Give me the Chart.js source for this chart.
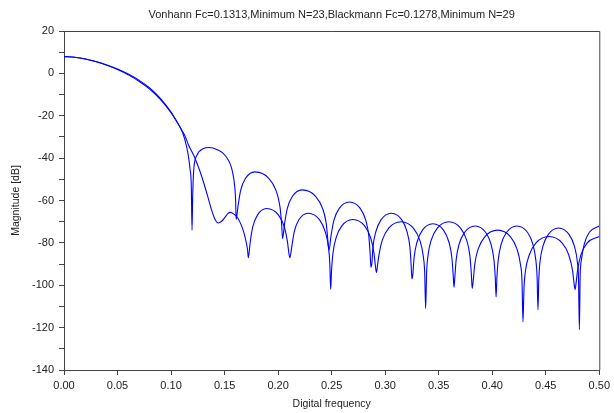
<!DOCTYPE html>
<html>
<head>
<meta charset="utf-8">
<script src="https://cdn.jsdelivr.net/npm/chart.js@4.4.1/dist/chart.umd.min.js"></script>
<style>
  html, body { margin: 0; padding: 0; background: #fff; }
  #wrap { width: 614px; height: 413px; }
</style>
</head>
<body>
<div id="wrap"><canvas id="fir" width="614" height="413"></canvas></div>
<script>
// Hann window filter, N=23
const freqA = [
	0, 0.01, 0.02, 0.03, 0.04, 0.05, 0.06, 0.07, 0.08, 0.09, 0.10, 0.105, 0.110,
	0.113, 0.1155, 0.1177, 0.1189, 0.1196,
	0.1202, 0.1211, 0.1243, 0.1304, 0.1355, 0.1431, 0.1510, 0.1572, 0.1596, 0.1603, 0.1608,
	0.1626, 0.1650, 0.1696, 0.1784, 0.1913, 0.1980, 0.2016, 0.2032, 0.2042,
	0.2060, 0.2086, 0.2134, 0.2225, 0.2350, 0.2415, 0.2450, 0.2465, 0.2475,
	0.2494, 0.2521, 0.2571, 0.2667, 0.2767, 0.2819, 0.2847, 0.2859, 0.2867,
	0.2875, 0.2886, 0.2913, 0.2962, 0.3058, 0.3154, 0.3204, 0.3231, 0.3242, 0.3250,
	0.3258, 0.3270, 0.3297, 0.3348, 0.3446, 0.3545, 0.3596, 0.3623, 0.3635, 0.3643,
	0.3651, 0.3663, 0.3690, 0.3742, 0.3840, 0.3938, 0.3989, 0.4016, 0.4028, 0.4036,
	0.4044, 0.4056, 0.4083, 0.4134, 0.4231, 0.4329, 0.4380, 0.4407, 0.4419, 0.4427,
	0.4435, 0.4446, 0.4473, 0.4524, 0.4620, 0.4717, 0.4768, 0.4795, 0.4806, 0.4814,
	0.4821, 0.4833, 0.4859, 0.4907, 0.5000
];
const magA = [
	7.9, 7.6, 6.8, 5.6, 4.0, 2.1, -0.3, -3.2, -6.9, -11.8, -18.3, -22.4, -27.0,
	-31.5, -37, -45, -53, -74,
	-58, -46, -38.5, -35.5, -35, -36, -39, -46, -54, -60, -69,
	-62.5, -55.2, -49.5, -46.5, -49.5, -55.2, -62.5, -70.5, -78,
	-71, -63.7, -58, -55, -58, -63.7, -71, -79, -83.5,
	-76.7, -69.4, -63.7, -60.7, -63.7, -69.4, -76.7, -84.7, -91.5,
	-90, -82, -74.7, -69, -66, -69, -74.7, -82, -90, -97,
	-95, -87, -79.7, -74, -71, -74, -79.7, -87, -95, -101,
	-96, -88, -80.7, -75, -72, -75, -80.7, -88, -96, -105.5,
	-96, -88, -80.7, -75, -72, -75, -80.7, -88, -96, -111.5,
	-97, -89, -81.7, -76, -73, -76, -81.7, -89, -97, -121,
	-96, -88, -80.7, -75, -72
];

// Blackman window filter, N=29
const freqB = [
	0, 0.01, 0.02, 0.03, 0.04, 0.05, 0.06, 0.07, 0.08, 0.09, 0.10, 0.105, 0.110,
	0.113, 0.1165, 0.1200, 0.1227, 0.1265, 0.1304, 0.1345, 0.1382, 0.1410, 0.1441,
	0.1472, 0.1503, 0.1530, 0.1552, 0.1580, 0.1620, 0.1655, 0.1685, 0.1705, 0.1715, 0.1722,
	0.1739, 0.1763, 0.1808, 0.1893, 0.2002, 0.2058, 0.2088, 0.2101, 0.2110,
	0.2127, 0.2151, 0.2195, 0.2280, 0.2386, 0.2440, 0.2470, 0.2483, 0.2491,
	0.2499, 0.2512, 0.2541, 0.2595, 0.2698, 0.2808, 0.2865, 0.2896, 0.2909, 0.2918,
	0.2930, 0.2941, 0.2973, 0.3033, 0.3148, 0.3263, 0.3323, 0.3355, 0.3369, 0.3378,
	0.3387, 0.3400, 0.3430, 0.3487, 0.3595, 0.3704, 0.3761, 0.3791, 0.3804, 0.3813,
	0.3822, 0.3837, 0.3870, 0.3932, 0.4050, 0.4169, 0.4230, 0.4263, 0.4278, 0.4287,
	0.4297, 0.4311, 0.4346, 0.4409, 0.4530, 0.4652, 0.4715, 0.4750, 0.4764, 0.4774,
	0.4783, 0.4797, 0.4828, 0.4887, 0.5000
];
const magB = [
	7.9, 7.6, 6.8, 5.5, 3.8, 1.8, -0.7, -3.7, -7.4, -12.3, -18.6, -22.5, -26.8,
	-29.5, -34, -37.5, -40.5, -45.5, -51.5, -58.5, -65, -68.8, -70.6,
	-69.8, -68, -66.2, -65.6, -66.2, -68, -71.5, -76, -80.5, -83.5, -87,
	-79.8, -72.5, -66.8, -63.8, -66.8, -72.5, -79.8, -85, -87,
	-82, -74.7, -69, -66, -69, -74.7, -82, -90, -102,
	-93, -85, -77.7, -72, -69, -72, -77.7, -85, -91, -94,
	-90, -86, -78.7, -73, -70, -73, -78.7, -86, -94, -111,
	-94, -86, -78.7, -73, -70, -73, -78.7, -86, -94, -101.5,
	-98, -90, -82.7, -77, -74, -77, -82.7, -90, -98, -117.3,
	-101, -93, -85.7, -80, -77, -80, -85.7, -93, -99, -102,
	-99, -93, -85.7, -80, -77
];

const plotTitle = 'Vonhann Fc=0.1313,Minimum N=23,Blackmann Fc=0.1278,Minimum N=29';
const xTitle = 'Digital frequency';
const yTitle = 'Magnitude [dB]';

const axisColor = '#444';
const lineColor = 'rgb(0, 0, 255)';
const fontFamily = '"Liberation Sans", Arial, sans-serif';

function toPoints(xs, ys) {
	let pts = [];
	for (let i = 0; i < xs.length; i++) {
		pts.push({ x: xs[i], y: ys[i] });
	}
	return pts;
}

// top and right edges of the plot box
const boxFrame = {
	id: 'boxFrame',
	afterDraw(chart) {
		const { ctx, chartArea: a } = chart;
		ctx.save();
		ctx.strokeStyle = axisColor;
		ctx.lineWidth = 1;
		ctx.beginPath();
		ctx.moveTo(a.left, a.top + 0.5);
		ctx.lineTo(a.right + 0.5, a.top + 0.5);
		ctx.lineTo(a.right + 0.5, a.bottom);
		ctx.stroke();
		ctx.restore();
	}
};

new Chart(document.getElementById('fir'), {
	type: 'scatter',
	data: {
		datasets: [
			{ data: toPoints(freqA, magA) },
			{ data: toPoints(freqB, magB) }
		]
	},
	options: {
		responsive: false,
		animation: false,
		layout: { padding: { left: 4, right: 12, top: 0, bottom: 0 } },
		elements: {
			point: { radius: 0 },
			line: { borderWidth: 1.1, borderColor: lineColor, cubicInterpolationMode: 'monotone' }
		},
		datasets: {
			scatter: { showLine: true, borderColor: lineColor, borderWidth: 1.1 }
		},
		plugins: {
			legend: { display: false },
			tooltip: { enabled: false },
			title: {
				display: true,
				text: plotTitle,
				fullSize: false,
				color: '#222',
				font: { family: fontFamily, size: 11, weight: 'normal' },
				padding: { top: 8, bottom: 9.8 }
			}
		},
		scales: {
			x: {
				type: 'linear',
				min: 0,
				max: 0.5,
				afterFit: function (scale) { scale.height = 43; },
				border: { display: true, color: axisColor, width: 1 },
				grid: { drawOnChartArea: false, drawTicks: true, tickLength: 5, color: axisColor },
				ticks: {
					stepSize: 0.05,
					autoSkip: false,
					maxRotation: 0,
					padding: 4,
					color: '#222',
					font: { family: fontFamily, size: 11 },
					callback: function (v) { return Number(v).toFixed(2); }
				},
				title: {
					display: true,
					text: xTitle,
					color: '#222',
					font: { family: fontFamily, size: 10.5 },
					padding: { top: 0, bottom: 3 }
				}
			},
			y: {
				type: 'linear',
				min: -140,
				max: 20,
				afterFit: function (scale) { scale.width = 60; },
				border: { display: true, color: axisColor, width: 1 },
				grid: { drawOnChartArea: false, drawTicks: true, tickLength: 5, color: axisColor },
				ticks: {
					stepSize: 10,
					autoSkip: false,
					padding: 5,
					color: '#222',
					font: { family: fontFamily, size: 11 },
					callback: function (v) { return v % 20 === 0 ? v : ''; }
				},
				title: {
					display: true,
					text: yTitle,
					color: '#222',
					font: { family: fontFamily, size: 10.5 },
					padding: { top: 6, bottom: 0 }
				}
			}
		}
	},
	plugins: [boxFrame]
});
</script>
</body>
</html>
